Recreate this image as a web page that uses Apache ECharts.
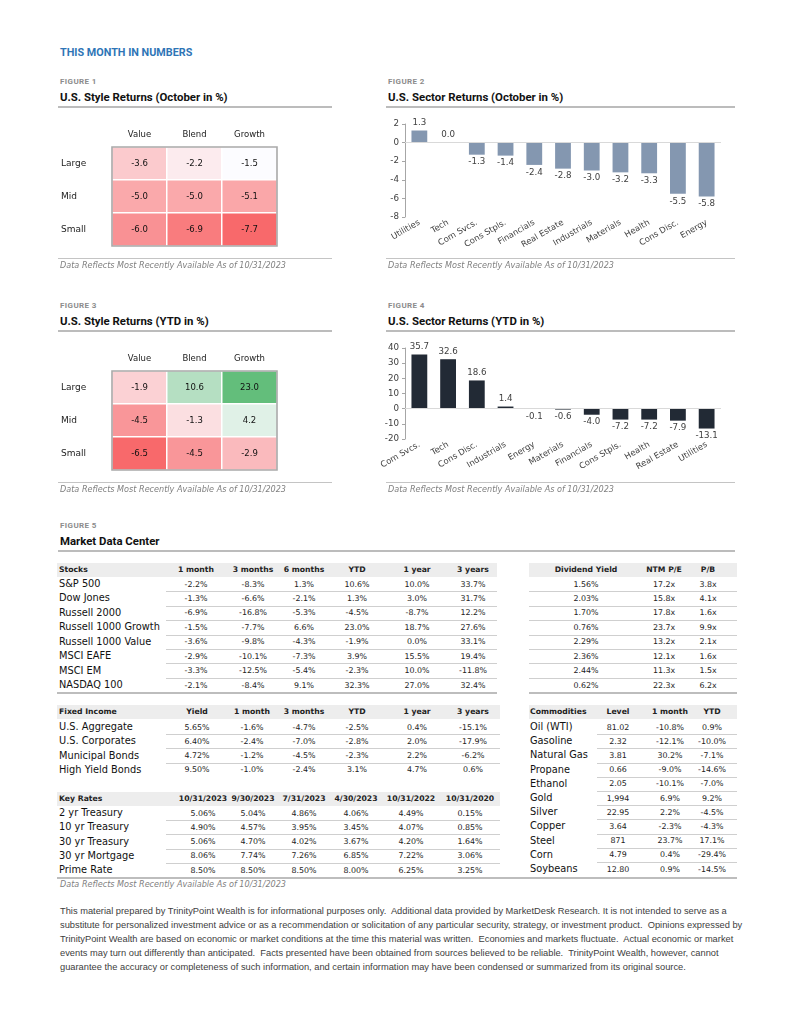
<!DOCTYPE html>
<html><head><meta charset="utf-8">
<script src="https://cdn.jsdelivr.net/npm/echarts/dist/echarts.min.js"></script>
<style>
html,body{margin:0;padding:0;background:#fff;}
#page{position:relative;width:791px;height:1024px;overflow:hidden;background:#fff;}
.t{position:absolute;white-space:nowrap;line-height:1;}
.hdr{font-family:Roboto,'DejaVu Sans',sans-serif;font-weight:700;font-size:10.8px;color:#2e75b6;}
.fig{font-family:Roboto,sans-serif;font-weight:700;font-size:8px;color:#8c8c8c;letter-spacing:0.4px;}
.ttl{font-family:Roboto,sans-serif;font-weight:700;font-size:11.4px;color:#111;}
.note{font-family:'DejaVu Sans',sans-serif;font-style:italic;font-size:8.1px;color:#7f7f7f;}
.th{font-family:'DejaVu Sans',sans-serif;font-weight:700;font-size:7.7px;color:#222;}
.rl{font-family:'DejaVu Sans',sans-serif;font-size:9.8px;color:#111;}
.v{font-family:'DejaVu Sans',sans-serif;font-size:7.9px;color:#222;}
.disc{font-family:'Liberation Sans',Arial,sans-serif;font-size:9.3px;color:#404040;white-space:pre;}
.ln{position:absolute;}
.chart{position:absolute;}
</style>
</head><body><div id="page">
<div id="c1" class="chart" style="left:55px;top:120px;width:240px;height:140px;"></div>
<div id="c2" class="chart" style="left:375px;top:108px;width:360px;height:150px;"></div>
<div id="c3" class="chart" style="left:55px;top:344px;width:240px;height:140px;"></div>
<div id="c4" class="chart" style="left:375px;top:333px;width:360px;height:150px;"></div>
</div>
<script>
// ---------------- DATA ----------------
const styleCols = ['Value', 'Blend', 'Growth'];
const styleRows = ['Large', 'Mid', 'Small'];
const styleOct = [[-3.6, -2.2, -1.5], [-5.0, -5.0, -5.1], [-6.0, -6.9, -7.7]];
const styleYtd = [[-1.9, 10.6, 23.0], [-4.5, -1.3, 4.2], [-6.5, -4.5, -2.9]];

const sectorOctNames = ['Utilities', 'Tech', 'Com Svcs.', 'Cons Stpls.', 'Financials', 'Real Estate', 'Industrials', 'Materials', 'Health', 'Cons Disc.', 'Energy'];
const sectorOctValues = [1.3, 0.0, -1.3, -1.4, -2.4, -2.8, -3.0, -3.2, -3.3, -5.5, -5.8];
const sectorYtdNames = ['Com Svcs.', 'Tech', 'Cons Disc.', 'Industrials', 'Energy', 'Materials', 'Financials', 'Cons Stpls.', 'Health', 'Real Estate', 'Utilities'];
const sectorYtdValues = [35.7, 32.6, 18.6, 1.4, -0.1, -0.6, -4.0, -7.2, -7.2, -7.9, -13.1];

const stockCols = ['1 month', '3 months', '6 months', 'YTD', '1 year', '3 years'];
const stockNames = ['S&P 500', 'Dow Jones', 'Russell 2000', 'Russell 1000 Growth', 'Russell 1000 Value', 'MSCI EAFE', 'MSCI EM', 'NASDAQ 100'];
const stockReturns = [
  [-2.2, -8.3, 1.3, 10.6, 10.0, 33.7],
  [-1.3, -6.6, -2.1, 1.3, 3.0, 31.7],
  [-6.9, -16.8, -5.3, -4.5, -8.7, 12.2],
  [-1.5, -7.7, 6.6, 23.0, 18.7, 27.6],
  [-3.6, -9.8, -4.3, -1.9, 0.0, 33.1],
  [-2.9, -10.1, -7.3, 3.9, 15.5, 19.4],
  [-3.3, -12.5, -5.4, -2.3, 10.0, -11.8],
  [-2.1, -8.4, 9.1, 32.3, 27.0, 32.4]
];
const valuationCols = ['Dividend Yield', 'NTM P/E', 'P/B'];
const dividendYield = [1.56, 2.03, 1.70, 0.76, 2.29, 2.36, 2.44, 0.62];
const ntmPE = [17.2, 15.8, 17.8, 23.7, 13.2, 12.1, 11.3, 22.3];
const priceBook = [3.8, 4.1, 1.6, 9.9, 2.1, 1.6, 1.5, 6.2];

const fixedCols = ['Yield', '1 month', '3 months', 'YTD', '1 year', '3 years'];
const fixedNames = ['U.S. Aggregate', 'U.S. Corporates', 'Municipal Bonds', 'High Yield Bonds'];
const fixedYield = [5.65, 6.40, 4.72, 9.50];
const fixedReturns = [
  [-1.6, -4.7, -2.5, 0.4, -15.1],
  [-2.4, -7.0, -2.8, 2.0, -17.9],
  [-1.2, -4.5, -2.3, 2.2, -6.2],
  [-1.0, -2.4, 3.1, 4.7, 0.6]
];
const rateDates = ['10/31/2023', '9/30/2023', '7/31/2023', '4/30/2023', '10/31/2022', '10/31/2020'];
const rateNames = ['2 yr Treasury', '10 yr Treasury', '30 yr Treasury', '30 yr Mortgage', 'Prime Rate'];
const rateValues = [
  [5.06, 5.04, 4.86, 4.06, 4.49, 0.15],
  [4.90, 4.57, 3.95, 3.45, 4.07, 0.85],
  [5.06, 4.70, 4.02, 3.67, 4.20, 1.64],
  [8.06, 7.74, 7.26, 6.85, 7.22, 3.06],
  [8.50, 8.50, 8.50, 8.00, 6.25, 3.25]
];
const commodityCols = ['Level', '1 month', 'YTD'];
const commodityNames = ['Oil (WTI)', 'Gasoline', 'Natural Gas', 'Propane', 'Ethanol', 'Gold', 'Silver', 'Copper', 'Steel', 'Corn', 'Soybeans'];
const commodityLevel = [81.02, 2.32, 3.81, 0.66, 2.05, 1994, 22.95, 3.64, 871, 4.79, 12.80];
const commodity1m = [-10.8, -12.1, 30.2, -9.0, -10.1, 6.9, 2.2, -2.3, 23.7, 0.4, 0.9];
const commodityYtd = [0.9, -10.0, -7.1, -14.6, -7.0, 9.2, -4.5, -4.3, 17.1, -29.4, -14.5];

const asOfNote = 'Data Reflects Most Recently Available As of 10/31/2023';
const disclaimer = [
  'This material prepared by TrinityPoint Wealth is for informational purposes only.  Additional data provided by MarketDesk Research. It is not intended to serve as a',
  'substitute for personalized investment advice or as a recommendation or solicitation of any particular security, strategy, or investment product.  Opinions expressed by',
  'TrinityPoint Wealth are based on economic or market conditions at the time this material was written.  Economies and markets fluctuate.  Actual economic or market',
  'events may turn out differently than anticipated.  Facts presented have been obtained from sources believed to be reliable.  TrinityPoint Wealth, however, cannot',
  'guarantee the accuracy or completeness of such information, and certain information may have been condensed or summarized from its original source.'
];

// ---------------- HELPERS ----------------
const page = document.getElementById('page');
function put(txt, x, y, cls, align) {
  const d = document.createElement('div');
  d.className = 't ' + cls;
  d.textContent = txt;
  d.style.left = x + 'px';
  d.style.top = y + 'px';
  const tx = align === 'center' ? '-50%' : (align === 'right' ? '-100%' : '0');
  d.style.transform = 'translate(' + tx + ',-50%)';
  page.appendChild(d);
  return d;
}
function box(x, y, w, h, color) {
  const d = document.createElement('div');
  d.className = 'ln';
  d.style.left = x + 'px'; d.style.top = y + 'px';
  d.style.width = w + 'px'; d.style.height = h + 'px';
  d.style.background = color;
  page.appendChild(d);
}
function hline(x1, x2, y, color, w) { box(x1, y, x2 - x1, w || 1, color || '#c9c9c9'); }
const pct1 = v => v.toFixed(1) + '%';
const pct2 = v => v.toFixed(2) + '%';

// headings
put('THIS MONTH IN NUMBERS', 60, 53, 'hdr');
function figHead(x, x2, yFig, num, title) {
  put('FIGURE ' + num, x + 2, yFig, 'fig');
  put(title, x + 2, yFig + 16, 'ttl');
  hline(x, x2, yFig + 24, '#bcbcbc', 1.5);
}
figHead(58, 332, 82, 1, 'U.S. Style Returns (October in %)');
figHead(386, 735, 82, 2, 'U.S. Sector Returns (October in %)');
figHead(58, 332, 306, 3, 'U.S. Style Returns (YTD in %)');
figHead(386, 735, 306, 4, 'U.S. Sector Returns (YTD in %)');
figHead(58, 735, 526, 5, 'Market Data Center');
function foot(x, x2, y) { hline(x, x2, y, '#c4c4c4', 1); put(asOfNote, x + 2, y + 7, 'note'); }
foot(58, 332, 258); foot(386, 735, 258); foot(58, 332, 482); foot(386, 735, 482);

// ---------------- TABLES ----------------
function table(cfg) {
  box(cfg.bgX1, cfg.headY - 7, cfg.bgX2 - cfg.bgX1, 14, '#ededed');
  put(cfg.title, cfg.labelX, cfg.headY, 'th');
  cfg.cols.forEach((c, j) => put(c, cfg.colX[j], cfg.headY, 'th', 'center'));
  cfg.rows.forEach((r, i) => {
    const y = cfg.firstY + i * cfg.step;
    if (cfg.names) put(cfg.names[i], cfg.labelX, y, 'rl');
    r.forEach((v, j) => put(v, cfg.colX[j], y + 0.5, 'v', 'center'));
    const last = i === cfg.rows.length - 1;
    if (!last) hline(cfg.sepX1, cfg.sepX2, Math.round(y + cfg.step / 2), '#cfcfcf', 1);
    else if (cfg.lastLine) hline(cfg.lastLine[0], cfg.lastLine[1], Math.round(y + cfg.step / 2), '#bdbdbd', 1.5);
  });
}
table({
  title: 'Stocks', cols: stockCols, names: stockNames, labelX: 59, headY: 570,
  colX: [196, 253, 304, 357, 417, 473], firstY: 584, step: 14.45,
  rows: stockReturns.map(r => r.map(pct1)), bgX1: 57, bgX2: 497, sepX1: 166, sepX2: 497, lastLine: [57, 497]
});
table({
  title: '', cols: valuationCols, labelX: 530, headY: 570,
  colX: [586, 664, 708], firstY: 584, step: 14.45,
  rows: dividendYield.map((d, i) => [pct2(d), ntmPE[i].toFixed(1) + 'x', priceBook[i].toFixed(1) + 'x']),
  bgX1: 529, bgX2: 737, sepX1: 529, sepX2: 737, lastLine: [529, 737]
});
table({
  title: 'Fixed Income', cols: fixedCols, names: fixedNames, labelX: 59, headY: 712,
  colX: [197, 252, 304, 357, 417, 473], firstY: 727, step: 14.3,
  rows: fixedYield.map((y, i) => [pct2(y)].concat(fixedReturns[i].map(pct1))),
  bgX1: 57, bgX2: 500, sepX1: 166, sepX2: 500, lastLine: null
});
table({
  title: 'Key Rates', cols: rateDates, names: rateNames, labelX: 59, headY: 799,
  colX: [203, 253, 304, 356, 411, 470], firstY: 813, step: 14.25,
  rows: rateValues.map(r => r.map(pct2)),
  bgX1: 57, bgX2: 500, sepX1: 166, sepX2: 500, lastLine: [57, 737]
});
table({
  title: 'Commodities', cols: commodityCols, names: commodityNames, labelX: 530, headY: 712,
  colX: [618, 670, 712], firstY: 727, step: 14.2,
  rows: commodityLevel.map((l, i) => [
    l >= 100 ? l.toLocaleString('en-US', {maximumFractionDigits: 0}) : l.toFixed(2),
    pct1(commodity1m[i]), pct1(commodityYtd[i])]),
  bgX1: 529, bgX2: 737, sepX1: 597, sepX2: 737, lastLine: null
});
put(asOfNote, 60, 884, 'note');
disclaimer.forEach((line, i) => put(line, 60, 912 + i * 14, 'disc'));

// ---------------- CHARTS ----------------
const RED = '#F8696B', WHITE = '#FCFCFF', GREEN = '#63BE7B';
function heatColor(v, min, max, mid) {
  if (mid === undefined) return echarts.color.lerp((v - min) / (max - min), [RED, WHITE]);
  if (v < mid) return echarts.color.lerp((v - min) / (mid - min), [RED, WHITE]);
  return echarts.color.lerp((v - mid) / (max - mid), [WHITE, GREEN]);
}
function heatOption(matrix, useMid) {
  const flat = matrix.flat();
  const min = Math.min(...flat), max = Math.max(...flat);
  const data = [];
  matrix.forEach((row, i) => row.forEach((v, j) => data.push({
    value: [j, i, v],
    itemStyle: {color: heatColor(v, min, max, useMid ? 0 : undefined)}
  })));
  return {
    animation: false,
    grid: {left: 57, top: 27, width: 165, height: 99},
    xAxis: {type: 'category', data: styleCols, position: 'top',
      axisLine: {show: false}, axisTick: {show: false}, splitLine: {show: false},
      axisLabel: {fontSize: 8.5, color: '#222', margin: 8, fontFamily: 'DejaVu Sans'}},
    yAxis: {type: 'category', data: styleRows, inverse: true,
      axisLine: {show: false}, axisTick: {show: false}, splitLine: {show: false},
      axisLabel: {fontSize: 9, color: '#222', margin: 51, align: 'left', fontFamily: 'DejaVu Sans'}},
    series: [{
      type: 'heatmap', data: data,
      itemStyle: {borderColor: '#ffffff', borderWidth: 1.5},
      label: {show: true, fontSize: 8.5, color: '#111', fontFamily: 'DejaVu Sans',
        formatter: p => p.value[2].toFixed(1)},
      emphasis: {disabled: true}
    }],
    graphic: [{type: 'rect', z: 100, silent: true,
      shape: {x: 57, y: 27, width: 165, height: 99},
      style: {fill: 'none', stroke: '#a9a9a9', lineWidth: 1.6}}]
  };
}
function barOption(names, values, color, yMin, yMax, step, grid) {
  return {
    animation: false,
    grid: grid,
    xAxis: {type: 'category', data: names,
      axisLine: {show: false}, axisTick: {show: false},
      axisLabel: {interval: 0, rotate: 30, fontSize: 8.4, color: '#404040', margin: 5, fontFamily: 'DejaVu Sans'}},
    yAxis: {type: 'value', min: yMin, max: yMax, interval: step,
      axisLine: {show: true, lineStyle: {color: '#a6a6a6'}},
      axisTick: {show: true, length: 3, lineStyle: {color: '#a6a6a6'}},
      splitLine: {show: false},
      axisLabel: {fontSize: 8.7, color: '#404040', margin: 6, fontFamily: 'DejaVu Sans'}},
    series: [{
      type: 'bar', barWidth: '55%', itemStyle: {color: color},
      data: values.map(v => ({value: v, label: {position: v >= 0 ? 'top' : 'bottom'}})),
      label: {show: true, distance: 3, fontSize: 8.7, color: '#404040', fontFamily: 'DejaVu Sans',
        formatter: p => p.value.toFixed(1)},
      markLine: {silent: true, symbol: 'none', label: {show: false},
        lineStyle: {color: '#d9d9d9', width: 1, type: 'solid'}, data: [{yAxis: 0}]},
      emphasis: {disabled: true}
    }]
  };
}
echarts.init(document.getElementById('c1')).setOption(heatOption(styleOct, false));
echarts.init(document.getElementById('c3')).setOption(heatOption(styleYtd, true));
echarts.init(document.getElementById('c2')).setOption(
  barOption(sectorOctNames, sectorOctValues, '#8497B0', -8, 2, 2, {left: 30, top: 16, width: 316, height: 93}));
echarts.init(document.getElementById('c4')).setOption(
  barOption(sectorYtdNames, sectorYtdValues, '#222A35', -20, 40, 10, {left: 30, top: 15, width: 316, height: 91}));
</script>
</body></html>
